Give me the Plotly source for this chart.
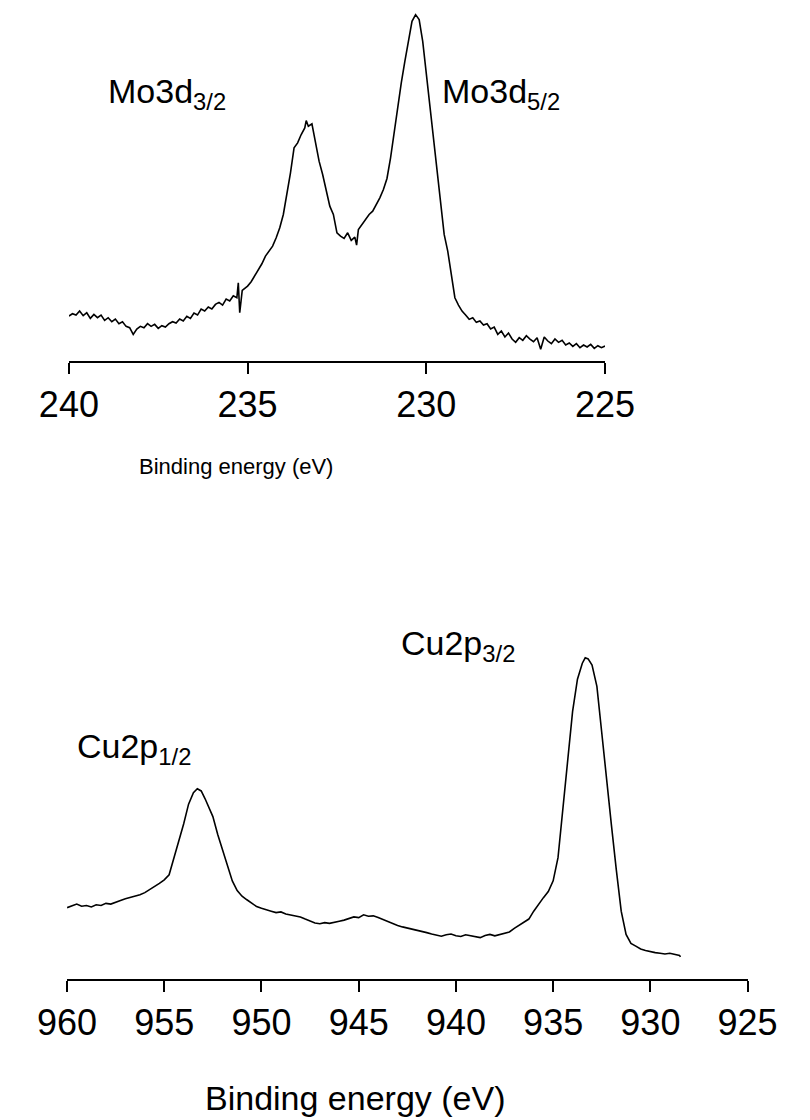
import plotly.graph_objects as go

# ---- Mo 3d spectrum (binding energy, eV ; intensity, arbitrary units) ----
mo_energy = [240.0, 239.9, 239.8, 239.7, 239.6, 239.5, 239.4, 239.3, 239.2, 239.1,
             239.0, 238.9, 238.8, 238.7, 238.6, 238.5, 238.4, 238.3, 238.2, 238.1,
             238.0, 237.9, 237.8, 237.7, 237.6, 237.5, 237.4, 237.3, 237.2, 237.1,
             237.0, 236.9, 236.8, 236.7, 236.6, 236.5, 236.4, 236.3, 236.2, 236.1,
             236.0, 235.9, 235.8, 235.7, 235.6, 235.5, 235.4, 235.3, 235.26, 235.22,
             235.15, 235.0, 234.9, 234.8, 234.7, 234.6, 234.5, 234.4, 234.3, 234.2,
             234.1, 234.0, 233.9, 233.8, 233.7, 233.6, 233.5, 233.4, 233.36, 233.3,
             233.2, 233.1, 233.0, 232.9, 232.8, 232.7, 232.6, 232.5, 232.4, 232.3,
             232.2, 232.1, 232.0, 231.95, 231.9, 231.8, 231.7, 231.6, 231.5, 231.4,
             231.3, 231.2, 231.1, 231.0, 230.9, 230.8, 230.7, 230.6, 230.5, 230.4,
             230.3, 230.2, 230.1, 230.0, 229.9, 229.8, 229.7, 229.6, 229.5, 229.4,
             229.3, 229.2, 229.1, 229.0, 228.9, 228.8, 228.7, 228.6, 228.5, 228.4,
             228.3, 228.2, 228.1, 228.0, 227.9, 227.8, 227.7, 227.6, 227.5, 227.4,
             227.3, 227.2, 227.1, 227.0, 226.9, 226.8, 226.7, 226.6, 226.5, 226.4,
             226.3, 226.2, 226.1, 226.0, 225.9, 225.8, 225.7, 225.6, 225.5, 225.4,
             225.3, 225.2, 225.1, 225.0]
mo_intensity = [135, 142, 138, 150, 136, 145, 128, 140, 130, 138,
                122, 130, 118, 126, 112, 118, 104, 100, 80, 96,
                104, 100, 112, 104, 110, 98, 106, 102, 112, 118,
                114, 126, 120, 134, 128, 144, 138, 156, 150, 162,
                156, 170, 176, 168, 186, 180, 196, 190, 235, 145,
                212, 225, 238, 255, 275, 292, 315, 330, 345, 370,
                400, 440, 500, 565, 640, 655, 680, 700, 722, 705,
                712, 660, 600, 560, 510, 465, 440, 385, 375, 368,
                385, 362, 372, 348, 395, 410, 422, 440, 450, 468,
                490, 515, 548, 610, 690, 755, 835, 900, 960, 1020,
                1040, 1025, 960, 860, 760, 665, 560, 460, 380, 330,
                255, 190, 168, 150, 138, 125, 130, 116, 120, 108,
                112, 96, 102, 80, 90, 72, 84, 66, 56, 70,
                62, 76, 66, 58, 70, 35, 72, 60, 52, 66,
                56, 62, 48, 54, 44, 52, 40, 48, 42, 50,
                38, 46, 40, 45]

# ---- Cu 2p spectrum ----
cu_energy = [960.0, 959.75, 959.5, 959.25, 959.0, 958.75, 958.5, 958.25, 958.0, 957.75,
             957.5, 957.25, 957.0, 956.75, 956.5, 956.25, 956.0, 955.75, 955.5, 955.25,
             955.0, 954.75, 954.5, 954.25, 954.0, 953.75, 953.5, 953.3, 953.1, 952.9,
             952.7, 952.5, 952.25, 952.0, 951.75, 951.5, 951.25, 951.0, 950.75, 950.5,
             950.25, 950.0, 949.75, 949.5, 949.25, 949.0, 948.75, 948.5, 948.25, 948.0,
             947.75, 947.5, 947.25, 947.0, 946.75, 946.5, 946.25, 946.0, 945.75, 945.5,
             945.25, 945.0, 944.75, 944.5, 944.25, 944.0, 943.75, 943.5, 943.25, 943.0,
             942.75, 942.5, 942.25, 942.0, 941.75, 941.5, 941.25, 941.0, 940.75, 940.5,
             940.25, 940.0, 939.75, 939.5, 939.25, 939.0, 938.75, 938.5, 938.25, 938.0,
             937.75, 937.5, 937.25, 937.0, 936.75, 936.5, 936.25, 936.0, 935.75, 935.5,
             935.25, 935.0, 934.75, 934.5, 934.25, 934.0, 933.75, 933.5, 933.35, 933.2,
             933.0, 932.75, 932.5, 932.25, 932.0, 931.75, 931.5, 931.25, 931.0, 930.75,
             930.5, 930.25, 930.0, 929.75, 929.5, 929.25, 929.0, 928.75, 928.5, 928.45]
cu_intensity = [200, 206, 210, 204, 206, 202, 208, 206, 212, 210,
                216, 220, 225, 228, 232, 236, 242, 250, 260, 268,
                278, 292, 340, 385, 435, 490, 522, 533, 527, 505,
                480, 455, 405, 360, 315, 275, 248, 232, 222, 212,
                203, 198, 193, 190, 186, 188, 182, 180, 176, 174,
                168, 162, 157, 155, 158, 156, 160, 162, 165, 170,
                174, 172, 180, 176, 177, 172, 166, 160, 156, 150,
                146, 143, 140, 138, 134, 130, 126, 124, 120, 124,
                126, 121, 119, 124, 122, 118, 116, 122, 125, 121,
                124, 128, 132, 142, 150, 158, 168, 190, 210, 228,
                245, 275, 340, 470, 610, 750, 840, 885, 900, 897,
                880, 820, 690, 550, 430, 305, 190, 125, 100, 92,
                84, 80, 76, 74, 72, 70, 72, 68, 66, 62]

mo_ticks = [240, 235, 230, 225]
cu_ticks = [960, 955, 950, 945, 940, 935, 930, 925]

W, H = 810, 1120
FONT = "Liberation Sans, Arial, sans-serif"


def fx(px):
    return px / W


def fy(py):
    return 1 - py / H


fig = go.Figure()
fig.add_trace(go.Scatter(x=mo_energy, y=mo_intensity, mode="lines",
                         line=dict(color="black", width=1.6),
                         xaxis="x", yaxis="y", showlegend=False))
fig.add_trace(go.Scatter(x=cu_energy, y=cu_intensity, mode="lines",
                         line=dict(color="black", width=1.6),
                         xaxis="x2", yaxis="y2", showlegend=False))

axis_common = dict(showline=True, linecolor="black", linewidth=2,
                   ticks="outside", ticklen=11, tickwidth=2, tickcolor="black",
                   showgrid=False, zeroline=False,
                   tickfont=dict(family=FONT, size=36, color="black"))

top_bottom_px, top_top_px = 361, 8
bot_bottom_px, bot_top_px = 979, 640

fig.update_layout(
    width=W, height=H,
    margin=dict(l=0, r=0, t=0, b=0),
    paper_bgcolor="white", plot_bgcolor="white",
    xaxis=dict(domain=[fx(42), fx(621)], range=[240, 225], tickvals=mo_ticks,
               anchor="y", **axis_common),
    yaxis=dict(domain=[fy(top_bottom_px), fy(top_top_px)], range=[0, 1060],
               visible=False, anchor="x"),
    xaxis2=dict(domain=[fx(40), fx(775)], range=[960, 925], tickvals=cu_ticks,
                anchor="y2", **axis_common),
    yaxis2=dict(domain=[fy(bot_bottom_px), fy(bot_top_px)], range=[0, 950],
                visible=False, anchor="x2"),
)

ann_font = dict(family=FONT, size=34, color="black")
annotations = [
    dict(text="Mo3d<sub>3/2</sub>", x=fx(82), y=fy(93), xanchor="left", yanchor="middle"),
    dict(text="Mo3d<sub>5/2</sub>", x=fx(443), y=fy(93), xanchor="left", yanchor="middle"),
    dict(text="Cu2p<sub>3/2</sub>", x=fx(398), y=fy(645), xanchor="left", yanchor="middle"),
    dict(text="Cu2p<sub>1/2</sub>", x=fx(49), y=fy(748), xanchor="left", yanchor="middle"),
]
for a in annotations:
    fig.add_annotation(xref="paper", yref="paper", showarrow=False, font=ann_font, **a)

fig.add_annotation(text="Binding energy (eV)", xref="paper", yref="paper",
                   x=fx(222), y=fy(466), xanchor="center", yanchor="middle",
                   showarrow=False, font=dict(family=FONT, size=22, color="black"))
fig.add_annotation(text="Binding energy (eV)", xref="paper", yref="paper",
                   x=fx(352), y=fy(1098), xanchor="center", yanchor="middle",
                   showarrow=False, font=dict(family=FONT, size=34, color="black"))

fig.write_html("out.html", post_script="document.body.style.margin='0';")
